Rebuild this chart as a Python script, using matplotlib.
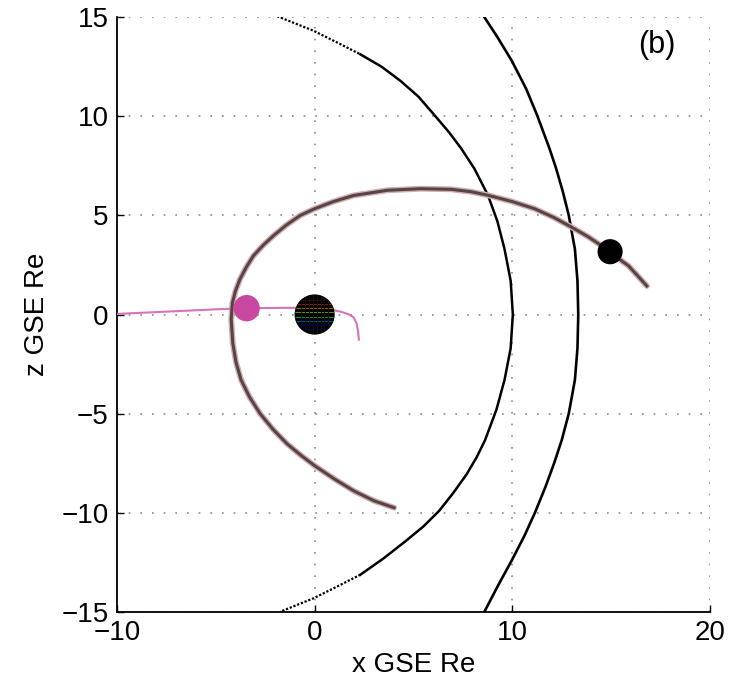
import matplotlib
matplotlib.use("Agg")
import matplotlib.pyplot as plt
from matplotlib.patches import Circle
from matplotlib import font_manager
import numpy as np

# --- values (x GSE, z GSE in Earth radii) ---
# magnetopause (inner arc)
mp_z = [15.13, 14.32, 13.7, 13.13, 12.5, 11.78, 11.0, 10.08, 9.2, 8.39, 7.37, 6.02, 4.7, 3.3, 1.7, 0.0,
        -1.7, -3.3, -4.8, -6.35, -7.2, -8.05, -9.0, -9.91, -10.7, -11.44, -12.3, -13.13, -13.7, -14.32, -15.0]
mp_x = [-2.08, -0.05, 1.2, 2.32, 3.4, 4.36, 5.25, 6.05, 6.8, 7.41, 8.08, 8.77, 9.25, 9.61, 9.92, 10.03,
        9.92, 9.61, 9.2, 8.62, 8.2, 7.7, 7.02, 6.3, 5.5, 4.6, 3.5, 2.32, 1.2, -0.05, -1.74]

# bow shock (outer arc)
bs_z = [15.13, 14.0, 12.8, 11.4, 10.08, 8.39, 7.37, 6.2, 5.0, 3.3, 1.7, 0.0,
        -1.7, -3.3, -5.0, -6.35, -7.5, -8.7, -10.0, -11.2, -12.4, -13.7, -15.08]
bs_x = [8.51, 9.25, 9.98, 10.7, 11.25, 11.88, 12.22, 12.56, 12.86, 13.17, 13.3, 13.34,
        13.3, 13.17, 12.86, 12.5, 12.12, 11.68, 11.15, 10.6, 9.98, 9.27, 8.55]

# spacecraft orbit
orb_x = [4.02, 3.0, 1.98, 1.0, 0.0, -0.7, -1.4, -2.1, -2.76, -3.3, -3.72, -3.98, -4.14, -4.22, -4.16,
         -4.0, -3.78, -3.45, -3.1, -2.6, -2.08, -1.45, -0.73, 0.0, 0.95, 1.98, 3.68, 5.37, 6.9,
         7.9, 8.77, 10.0, 11.13, 12.1, 13.0, 13.8, 14.52, 15.2, 15.88, 16.35, 16.81]
orb_z = [-9.75, -9.4, -8.9, -8.3, -7.63, -7.1, -6.52, -5.8, -5.0, -4.15, -3.3, -2.4, -1.44, -0.25, 0.59,
         1.2, 1.78, 2.4, 2.96, 3.5, 3.98, 4.5, 5.0, 5.34, 5.7, 6.01, 6.27, 6.35, 6.32,
         6.2, 6.02, 5.7, 5.34, 4.9, 4.41, 3.95, 3.47, 2.95, 2.46, 1.95, 1.44]

# second trajectory (pink)
pk_x = [-10.0, -4.8, -3.44, -1.0, 0.97, 1.4, 1.75, 1.98, 2.12, 2.2, 2.24]
pk_z = [0.03, 0.27, 0.32, 0.34, 0.22, 0.12, 0.0, -0.15, -0.45, -0.85, -1.27]

sc_pos = (14.95, 3.17)
pink_pos = (-3.44, 0.32)

xticks = [-10, 0, 10, 20]
zticks = [-15, -10, -5, 0, 5, 10, 15]

names = {f.name for f in font_manager.fontManager.ttflist}
fam = "Liberation Sans Narrow" if "Liberation Sans Narrow" in names else "Liberation Sans"
plt.rcParams['font.family'] = [fam, 'DejaVu Sans']

fig = plt.figure(figsize=(7.32, 6.93), dpi=100)
ax = fig.add_axes([0.1598, 0.1173, 0.810, 0.8577])

ax.set_xlim(-10, 20)
ax.set_ylim(-15, 15)
ax.set_xticks(xticks)
ax.set_yticks(zticks)
ax.set_xticklabels([str(t).replace('-', '\u2212') for t in xticks])
ax.set_yticklabels([str(t).replace('-', '\u2212') for t in zticks])
ax.tick_params(direction='in', length=5, width=1, labelsize=20, pad=6)
ax.grid(True, color='#8a8a8a', linestyle=(0, (1, 6)), linewidth=1.2)
ax.set_axisbelow(True)
for s in ['top', 'right']:
    ax.spines[s].set_visible(False)
for s in ['left', 'bottom']:
    ax.spines[s].set_linewidth(1.3)

# magnetopause: solid middle, dotted ends
mp_x = np.array(mp_x); mp_z = np.array(mp_z)
mid = np.abs(mp_z) <= 13.2
ax.plot(mp_x[mid], mp_z[mid], color='black', lw=1.8, solid_joinstyle='round', zorder=3)
top = mp_z >= 13.1
bot = mp_z <= -13.1
ax.plot(mp_x[top], mp_z[top], color='black', lw=1.6, linestyle=(0, (1, 0.8)), zorder=3)
ax.plot(mp_x[bot], mp_z[bot], color='black', lw=1.6, linestyle=(0, (1, 0.8)), zorder=3)

# bow shock
ax.plot(bs_x, bs_z, color='black', lw=1.9, solid_joinstyle='round', zorder=3)

# orbit (overlaid tracks)
ax.plot(orb_x, orb_z, color='#d9a8b8', lw=4.2, solid_capstyle='round', solid_joinstyle='round', zorder=4)
ax.plot(orb_x, orb_z, color='#b5c48a', lw=3.0, alpha=0.45, solid_joinstyle='round', zorder=4)
ax.plot(orb_x, orb_z, color='#574444', lw=2.2, solid_joinstyle='round', zorder=5)

# pink trajectory
ax.plot(pk_x, pk_z, color='#d773b8', lw=1.5, zorder=4)
ax.add_patch(Circle(pink_pos, 0.63, color='#c8479f', zorder=6))

# spacecraft
ax.add_patch(Circle(sc_pos, 0.6, color='black', zorder=6))

# Earth
earth = Circle((0, 0), 0.98, color='black', zorder=7)
ax.add_patch(earth)
cmap = plt.get_cmap('jet')
for i, zz in enumerate(np.linspace(0.75, -0.75, 8)):
    ln, = ax.plot([-1, 1], [zz, zz], color=cmap(1 - i / 7), lw=0.8, alpha=0.55, zorder=8)
    ln.set_clip_path(earth)
for xx in np.linspace(-0.7, 0.7, 8):
    ln, = ax.plot([xx, xx], [-1, 1], color='#111111', lw=0.8, zorder=8)
    ln.set_clip_path(earth)

ax.text(17.3, 13.6, '(b)', fontsize=22, ha='center', va='center')
ax.set_xlabel('x GSE Re', fontsize=20, labelpad=4)
ax.set_ylabel('z GSE Re', fontsize=20, labelpad=8)

fig.savefig('out.png', dpi=100)
